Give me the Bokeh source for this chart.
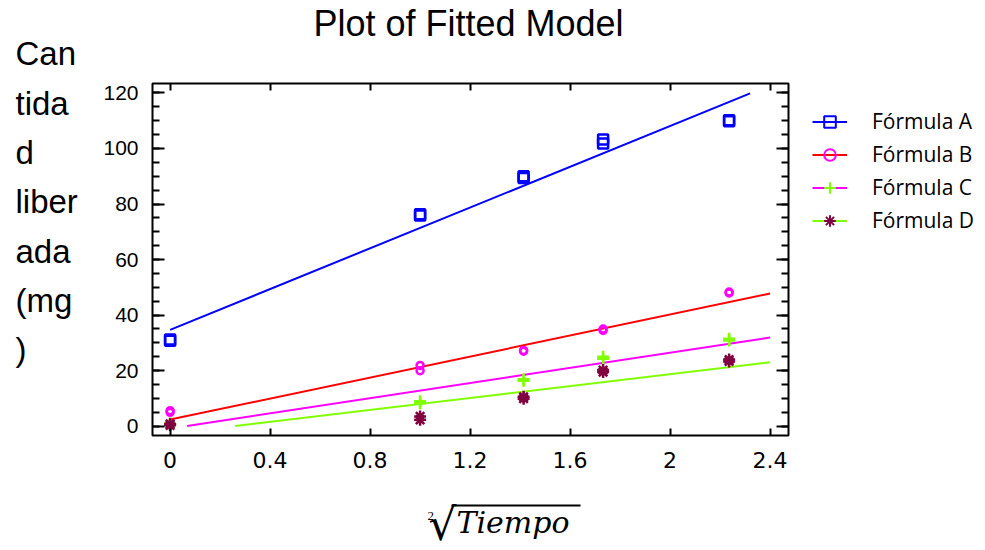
from bokeh.plotting import figure
from bokeh.layouts import row, column
from bokeh.models import (Range1d, FixedTicker, LinearAxis, Legend, LegendItem,
                          CustomJSTickFormatter)
from bokeh.core.properties import value
from bokeh.embed import file_html
from bokeh.resources import INLINE

# ---------------- data ----------------
sqrt_t = [0.0, 1.0, 1.414, 1.732, 2.236]
a_rep1 = [30.8, 76.3, 90.0, 101.8, 110.2]
a_rep2 = [31.2, 75.9, 89.4, 103.2, 109.8]
b_rep1 = [5.0, 21.9, 27.0, 34.5, 48.3]
b_rep2 = [5.6, 20.0, 27.3, 35.0, 48.0]
c_rep1 = [1.0, 8.3, 16.9, 24.3, 30.9]
c_rep2 = [0.6, 9.0, 16.4, 25.0, 31.5]
d_rep1 = [0.3, 2.3, 9.9, 19.5, 23.3]
d_rep2 = [0.8, 3.5, 10.6, 20.2, 24.0]

series_names = ["Fórmula A", "Fórmula B", "Fórmula C", "Fórmula D"]
fit_intercept = [34.7, 2.4, -0.83, -2.68]
fit_slope = [36.7, 18.9, 13.64, 10.7]
fit_x_start = [0.0, 0.0, 0.068, 0.26]
fit_x_end = [2.32, 2.4, 2.4, 2.4]

x_ticks = [0, 0.4, 0.8, 1.2, 1.6, 2, 2.4]
x_tick_labels = ["0", "0.4", "0.8", "1.2", "1.6", "2", "2.4"]
y_ticks = [0, 20, 40, 60, 80, 100, 120]
y_minor_ticks = list(range(0, 125, 5))

title_text = "Plot of Fitted Model"
y_label_lines = ["Can", "tida", "d", "liber", "ada", "(mg", ")"]
x_label_index = "2"
x_label_radical = "√"
x_label_word = "Tiempo"

# ---------------- styles / layout ----------------
marker_colors = ["#0000FF", "#FF00FF", "#80FF00", "#800040"]
line_colors = ["#0000FF", "#FF0000", "#FF00FF", "#80FF00"]
markers = ["square", "circle", "cross", "asterisk"]
marker_sizes = [10, 7, 12, 12]

W, H = 985, 550
LEFT_W = 100                          # y-label strip width
FL, FR, FT, FB = 152, 788, 83, 435    # frame edges in page pixels
PAD = 2                               # room for the outline on top / right
TITLE_H = FT - PAD
XLAB_H = 55
MID_W = FR + PAD - LEFT_W             # width of the middle column
MAIN_H = H - TITLE_H - XLAB_H
BASE_SHIFT = 0.38                     # alphabetic-baseline offset of text glyphs (em)

X0, X1 = -0.0704, 2.4736
Y0, Y1 = -3.35, 123.4


def base(y, size):
    return y - BASE_SHIFT * size


def strip(w, h, xr, yr):
    f = figure(width=w, height=h, x_range=xr, y_range=yr, output_backend="svg",
               toolbar_location=None, title=None, min_border=0,
               x_axis_location=None, y_axis_location=None)
    f.frame_align = False
    f.grid.visible = False
    f.outline_line_color = None
    f.background_fill_color = "white"
    f.border_fill_color = "white"
    return f


# ---------------- main plot ----------------
p = figure(width=MID_W, height=MAIN_H, x_range=Range1d(X0, X1),
           y_range=Range1d(Y0, Y1), output_backend="svg", toolbar_location=None,
           title=None, min_border_left=FL - LEFT_W, min_border_right=PAD,
           min_border_top=PAD, min_border_bottom=H - XLAB_H - FB,
           x_axis_location=None, y_axis_location=None)
p.frame_align = False
p.grid.visible = False
p.outline_line_color = "black"
p.outline_line_width = 2
p.background_fill_color = "white"
p.border_fill_color = "white"

xt = FixedTicker(ticks=x_ticks, minor_ticks=[])
yt = FixedTicker(ticks=y_ticks, minor_ticks=y_minor_ticks)
blank = CustomJSTickFormatter(code="return ''")


def style_axis(ax, major_len, minor_len):
    ax.axis_line_color = None
    ax.major_tick_in = major_len
    ax.major_tick_out = 0
    ax.minor_tick_in = minor_len
    ax.minor_tick_out = 0
    ax.major_tick_line_width = 2
    ax.minor_tick_line_width = 2
    ax.major_tick_line_color = "black"
    ax.minor_tick_line_color = "black"


bottom = LinearAxis(ticker=xt, major_label_overrides={t: l for t, l in zip(x_ticks, x_tick_labels)})
style_axis(bottom, 7, 0)
bottom.major_label_text_font = "DejaVu Sans"
bottom.major_label_text_font_size = "22px"
bottom.major_label_text_color = "black"
bottom.major_label_standoff = 16
p.add_layout(bottom, "below")

top = LinearAxis(ticker=xt, formatter=blank)
style_axis(top, 7, 0)
top.major_label_standoff = 0
p.add_layout(top, "above")

left = LinearAxis(ticker=yt)
style_axis(left, 12, 7)
left.major_label_text_font = "Liberation Sans"
left.major_label_text_font_size = "21px"
left.major_label_text_color = "black"
left.major_label_standoff = 14
p.add_layout(left, "left")

right = LinearAxis(ticker=yt, formatter=blank)
style_axis(right, 12, 7)
right.major_label_standoff = 0
p.add_layout(right, "right")

reps = [(a_rep1, a_rep2), (b_rep1, b_rep2), (c_rep1, c_rep2), (d_rep1, d_rep2)]
for i, (r1, r2) in enumerate(reps):
    xs = [fit_x_start[i], fit_x_end[i]]
    ys = [fit_intercept[i] + fit_slope[i] * x for x in xs]
    p.line(xs, ys, line_color=line_colors[i], line_width=2)
    p.scatter(sqrt_t + sqrt_t, r1 + r2, marker=markers[i], size=marker_sizes[i],
              line_color=marker_colors[i], fill_color=None, line_width=2.5)

# ---------------- title strip (page pixel coordinates) ----------------
tstrip = strip(MID_W, TITLE_H, Range1d(LEFT_W, FR + PAD), Range1d(TITLE_H, 0))
tstrip.text(x=[468], y=[base(37, 36)], text=[title_text], text_align="center",
            text_baseline="alphabetic", text_font=value("Liberation Sans"),
            text_font_size=value("36px"), text_color="black")

# ---------------- y-label strip ----------------
ylab = strip(LEFT_W, H, Range1d(0, LEFT_W), Range1d(H, 0))
ylab.text(x=[15] * len(y_label_lines),
          y=[base(66 + 49.3 * k, 33) for k in range(len(y_label_lines))],
          text=y_label_lines, text_align="left", text_baseline="alphabetic",
          text_font=value("Liberation Sans"), text_font_size=value("33px"),
          text_color="black")

# ---------------- x-label strip ----------------
xlab = strip(MID_W, XLAB_H, Range1d(LEFT_W, FR + PAD), Range1d(H, H - XLAB_H))
xlab.text(x=[456], y=[base(533, 30)], text=[x_label_word], text_align="left",
          text_baseline="alphabetic", text_font=value("DejaVu Serif"),
          text_font_style="italic", text_font_size=value("30px"), text_color="black")
xlab.text(x=[428], y=[base(541, 44)], text=[x_label_radical], text_align="left",
          text_baseline="alphabetic", text_font=value("DejaVu Sans"),
          text_font_size=value("44px"), text_color="black")
xlab.text(x=[427], y=[base(520, 13)], text=[x_label_index], text_align="left",
          text_baseline="alphabetic", text_font=value("Liberation Serif"),
          text_font_size=value("13px"), text_color="black")
xlab.line(x=[451, 580], y=[505, 505], line_color="black", line_width=2)

# ---------------- legend strip ----------------
LEG_W = W - FR - PAD
leg = strip(LEG_W, H, Range1d(0, 1), Range1d(0, 1))
items = []
for i in range(4):
    ln = leg.line([-5, -4], [-5, -4], line_color=line_colors[i], line_width=2)
    sc = leg.scatter([-5], [-5], marker=markers[i], size=marker_sizes[i],
                     line_color=marker_colors[i], fill_color=None, line_width=2)
    items.append(LegendItem(label=series_names[i], renderers=[ln, sc]))
legend = Legend(items=items, location=(812 - FR - PAD, 315.5), padding=0, margin=0,
                spacing=4, glyph_width=35, glyph_height=29, label_height=29,
                label_standoff=25, label_text_font="Open Sans",
                label_text_font_size="21px", label_text_color="black",
                border_line_color=None, background_fill_alpha=0)
leg.add_layout(legend, "center")

layout = row(ylab, column(tstrip, p, xlab), leg)
open("out.html", "w").write(file_html(layout, INLINE))
